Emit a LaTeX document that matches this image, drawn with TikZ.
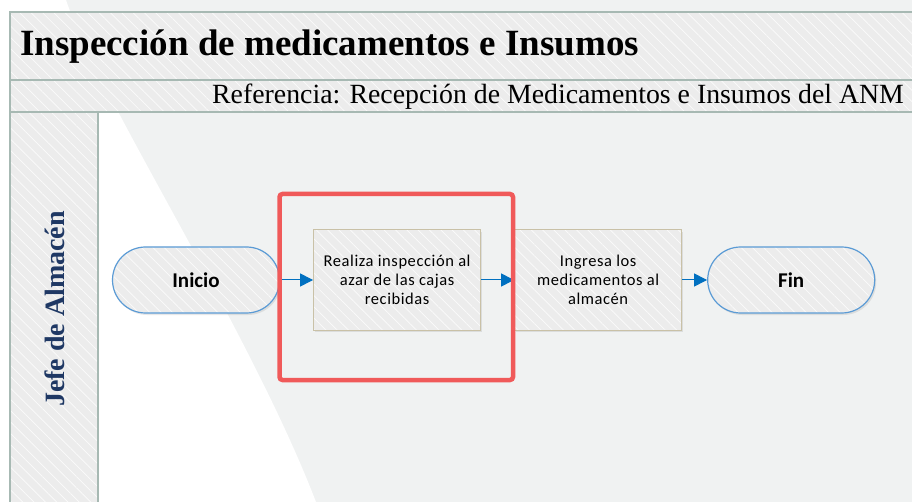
\documentclass[tikz,border=0pt]{standalone}
\usepackage{fontspec}
\setmainfont{Liberation Serif}
\newfontfamily\calibri{Carlito}
\usetikzlibrary{positioning,arrows.meta,shadows,patterns.meta}
\definecolor{fondo}{HTML}{F0F2F2}
\definecolor{marco}{HTML}{A7B9B3}
\definecolor{banda}{HTML}{ECECEC}
\definecolor{azul}{HTML}{0070C0}
\definecolor{bordeazul}{HTML}{5B9BD5}
\definecolor{beige}{HTML}{C9C1A7}
\definecolor{rojo}{HTML}{F05A5A}
\definecolor{marino}{HTML}{1F3864}

\begin{document}
\begin{tikzpicture}[x=1pt,y=-1pt,
    rayas/.style={preaction={fill=banda},
        preaction={pattern={Lines[angle=-45,distance=8pt,line width=0.7pt]},pattern color=white!80!banda}},
    sombra/.style={drop shadow={opacity=0.18,shadow xshift=1.5pt,shadow yshift=-2pt}},
    terminal/.style={sombra, rayas, draw=bordeazul, line width=1.2pt, rounded corners=33pt,
        minimum width=167pt, minimum height=66pt,
        font=\calibri\bfseries\fontsize{21}{24}\selectfont},
    proceso/.style={sombra, rayas, draw=beige, line width=1pt, minimum width=167pt,
        minimum height=100pt, align=center,
        font=\calibri\addfontfeature{LetterSpace=3.5}\fontsize{16.5}{19}\selectfont},
    flecha/.style={azul, line width=1pt, -{Triangle[length=13pt,width=13pt]}}]
    \useasboundingbox (0,0) rectangle (912,502);
    % Le fond
    \fill[fondo] (0,0) rectangle (912,502);
    \fill[white] (0,0) -- (66,0) .. controls (100,100) and (250,330) .. (316,502) -- (0,502) -- cycle;
    % Les bandes du cadre
    \draw[rayas, draw=marco, line width=1.5pt] (10,12) rectangle (930,80);
    \draw[rayas, draw=marco, line width=1.5pt] (10,80) rectangle (930,112);
    \draw[rayas, draw=marco, line width=1.5pt] (10,112) rectangle (98,530);
    % Les textes
    \node[anchor=base west, inner sep=0pt] (titulo) at (20,56)
        {\bfseries\fontsize{37}{40}\selectfont Inspección de medicamentos e Insumos};
    \node[anchor=base west, inner sep=0pt] (referencia) at (212,104)
        {\fontsize{27.8}{32}\selectfont Referencia: Recepción de Medicamentos e Insumos del ANM};
    \node[rotate=90, text=marino, font=\bfseries\fontsize{28}{30}\selectfont] (carril) at (55,309) {Jefe de Almacén};
    % Les etapes
    \node[terminal] (inicio) at (196,280) {Inicio};
    \node[proceso, right=33pt of inicio] (inspeccion) {Realiza inspección al\\azar de las cajas\\recibidas};
    \node[proceso, right=33pt of inspeccion] (ingreso) {Ingresa los\\medicamentos al\\almacén};
    \node[terminal, right=25pt of ingreso] (fin) {Fin};
    % Les fleches
    \draw[flecha] (inicio) -- (inspeccion);
    \draw[flecha] (inspeccion) -- (ingreso);
    \draw[flecha] (ingreso) -- (fin);
    % Le cadre rouge
    \draw[rojo, line width=4.5pt, rounded corners=3pt] (279.5,194) rectangle (513,380);
\end{tikzpicture}
\end{document}
